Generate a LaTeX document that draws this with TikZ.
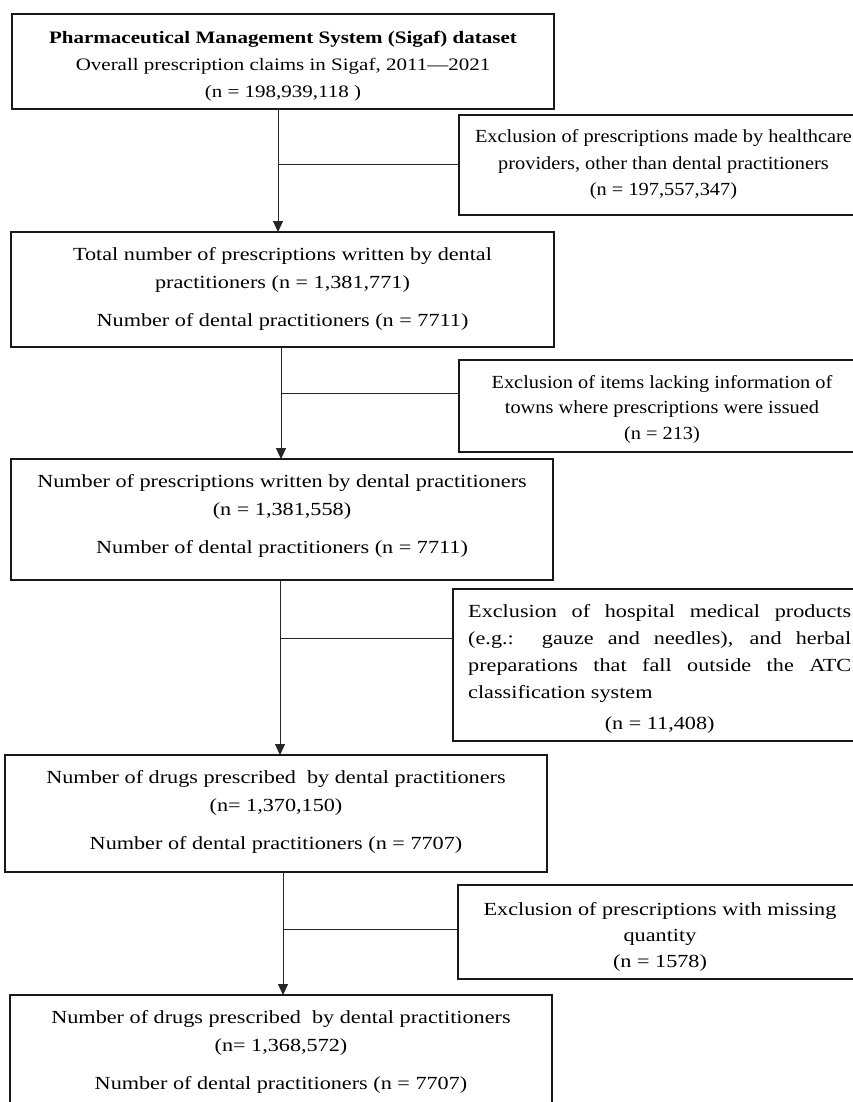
\documentclass[tikz,border=0pt]{standalone}
\usepackage{fontspec}
\setmainfont{Liberation Serif}[FakeStretch=1.2]
\newfontfamily\narrowfont{Liberation Serif}[FakeStretch=1.1]
\usetikzlibrary{arrows.meta}
\newcommand{\ctext}[1]{\begin{tabular}[t]{@{}c@{}}#1\end{tabular}}
\begin{document}
\begin{tikzpicture}[x=1pt,y=-1pt,
  box/.style={draw=black!90, line width=1.4pt, inner sep=0pt, outer sep=0pt, fill=none},
  txt/.style={anchor=base, inner sep=0pt, text=black, font=\fontsize{18.5}{28}\selectfont},
  ntxt/.style={anchor=base, inner sep=0pt, text=black, font=\narrowfont\fontsize{18.5}{25.5}\selectfont},
  conn/.style={draw=black!85, line width=1pt},
  arr/.style={conn, -{Triangle[width=10pt,length=11pt]}}
]
\useasboundingbox (0,0) rectangle (852,1102);
\fill[white] (0,0) rectangle (852,1102);

% main boxes
\node[box, minimum width=542pt, minimum height=95pt] (b1) at (283,61.5) {};
\node[box, minimum width=543pt, minimum height=115pt] (b2) at (282.5,289.5) {};
\node[box, minimum width=542pt, minimum height=121pt] (b3) at (282,519.5) {};
\node[box, minimum width=542pt, minimum height=117pt] (b4) at (276,813.5) {};
\node[box, minimum width=542pt, minimum height=113pt] (b5) at (281,1051.5) {};

% exclusion boxes
\node[box, minimum width=399pt, minimum height=100pt] (e1) at (658.5,165) {};
\node[box, minimum width=399pt, minimum height=92pt] (e2) at (658.5,406) {};
\node[box, minimum width=405pt, minimum height=152pt] (e3) at (655.5,665) {};
\node[box, minimum width=400pt, minimum height=94pt] (e4) at (658,932) {};

% texts of main boxes
\node[txt, font=\fontsize{17.5}{27}\selectfont] (t1) at (283,44) {\ctext{\textbf{Pharmaceutical Management System (Sigaf) dataset}\\
Overall prescription claims in Sigaf, 2011—2021\\
(n = 198,939,118 )}};
\node[txt] (t2) at (282.5,260) {\ctext{Total number of prescriptions written by dental\\
practitioners (n = 1,381,771)\\[10pt]
Number of dental practitioners (n = 7711)}};
\node[txt] (t3) at (282,487) {\ctext{Number of prescriptions written by dental practitioners\\
(n = 1,381,558)\\[10pt]
Number of dental practitioners (n = 7711)}};
\node[txt] (t4) at (276,783) {\ctext{Number of drugs prescribed\ \ by dental practitioners\\
(n= 1,370,150)\\[10pt]
Number of dental practitioners (n = 7707)}};
\node[txt] (t5) at (281,1023) {\ctext{Number of drugs prescribed\ \ by dental practitioners\\
(n= 1,368,572)\\[10pt]
Number of dental practitioners (n = 7707)}};

% texts of exclusion boxes
\node[ntxt, font=\narrowfont\fontsize{18.5}{26.5}\selectfont] (x1) at (663.5,143) {\ctext{Exclusion of prescriptions made by healthcare\\
providers, other than dental practitioners\\
(n = 197,557,347)}};
\node[ntxt] (x2) at (662,388) {\ctext{Exclusion of items lacking information of\\
towns where prescriptions were issued\\
(n = 213)}};
\node[txt, anchor=base west] (x3) at (468,617) {\parbox[t]{383pt}{\fontsize{18.5}{27}\selectfont
Exclusion of hospital medical products\linebreak
(e.g.:\ \ gauze and needles), and herbal\linebreak
preparations that fall outside the ATC\linebreak
classification system\par\vspace{4pt}
\centering (n = 11,408)\par}};
\node[txt, font=\fontsize{18.5}{26}\selectfont] (x4) at (660,915) {\ctext{Exclusion of prescriptions with missing\\
quantity\\
(n = 1578)}};

% stem coordinates and junctions
\coordinate (s1) at (278,0);
\coordinate (s2) at (281,0);
\coordinate (s3) at (280,0);
\coordinate (s4) at (283,0);
\coordinate (j1) at (278,165);
\coordinate (j2) at (281,393);
\coordinate (j3) at (280,638);
\coordinate (j4) at (283,929);

% connectors
\draw[arr] (b1.south -| s1) -- (b2.north -| s1);
\draw[arr] (b2.south -| s2) -- (b3.north -| s2);
\draw[arr] (b3.south -| s3) -- (b4.north -| s3);
\draw[arr] (b4.south -| s4) -- (b5.north -| s4);
\draw[conn] (e1.west |- j1) -- (j1);
\draw[conn] (e2.west |- j2) -- (j2);
\draw[conn] (e3.west |- j3) -- (j3);
\draw[conn] (e4.west |- j4) -- (j4);
\end{tikzpicture}
\end{document}
